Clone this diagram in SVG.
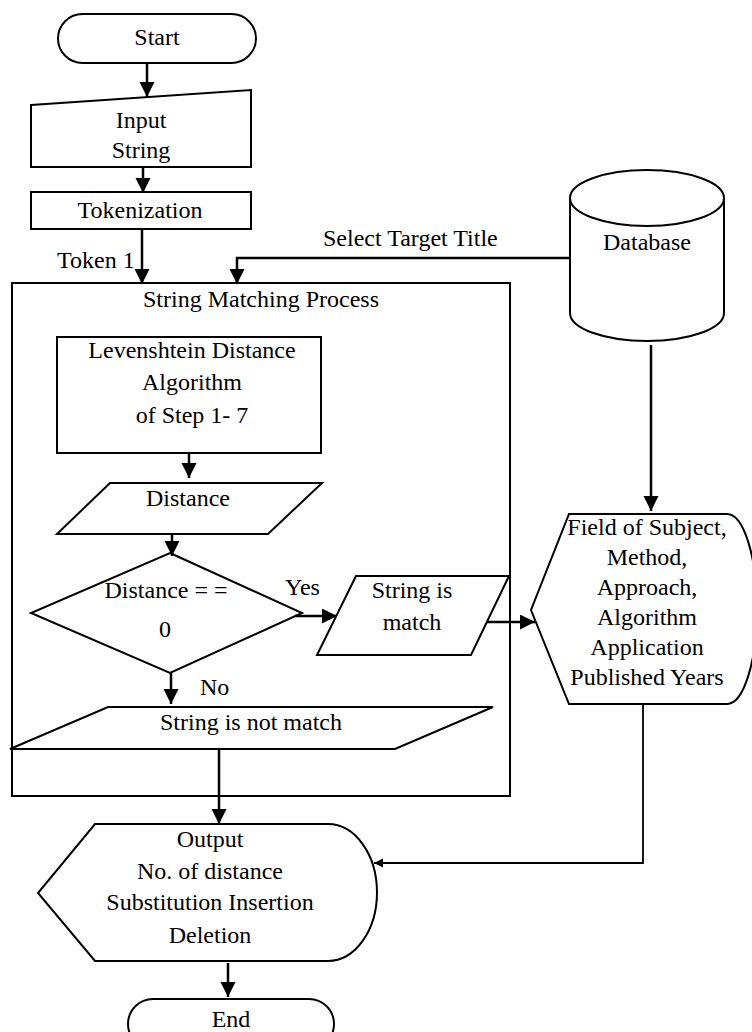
<svg xmlns="http://www.w3.org/2000/svg" width="752" height="1032" viewBox="0 0 752 1032">
  <style>
    .shape { fill: #fff; stroke: #000; stroke-width: 2; }
    .frame { fill: none; stroke: #000; stroke-width: 2; }
    .line { fill: none; stroke: #000; stroke-width: 2.5; }
    .thin { fill: none; stroke: #000; stroke-width: 1.8; }
    text { font-family: "Times New Roman", Times, "Liberation Serif", "Noto Serif", "DejaVu Serif", serif; font-size: 24px; fill: #000; }
    .c { text-anchor: middle; }
  </style>
  <defs>
    <marker id="arrow" markerUnits="userSpaceOnUse" markerWidth="16" markerHeight="16" refX="15" refY="7.5" orient="auto">
      <path d="M0,0 L15,7.5 L0,15 Z" fill="#000"/>
    </marker>
    <marker id="arrowSmall" markerUnits="userSpaceOnUse" markerWidth="10" markerHeight="10" refX="9" refY="4.5" orient="auto">
      <path d="M0,0 L9,4.5 L0,9 Z" fill="#000"/>
    </marker>
  </defs>

  <rect width="752" height="1032" fill="#fff"/>

  <!-- container for the matching stage -->
  <g id="string-matching-process">
    <rect class="frame" x="12" y="283" width="498" height="513"/>
    <text class="c" x="261" y="307">String Matching Process</text>
  </g>

  <g id="start">
    <rect class="shape" x="58" y="14" width="198" height="49" rx="24.5" ry="24.5"/>
    <text class="c" x="157" y="45">Start</text>
  </g>

  <g id="input-string">
    <polygon class="shape" points="31,105 251,90 251,167 31,167"/>
    <text class="c" x="141" y="128">Input</text>
    <text class="c" x="141" y="158">String</text>
  </g>

  <g id="tokenization">
    <rect class="shape" x="31" y="192" width="220" height="37"/>
    <text class="c" x="140" y="218">Tokenization</text>
  </g>

  <g id="database">
    <path class="shape" d="M570,198 L570,313 A77,28 0 0 0 724,313 L724,198 A77,28 0 0 0 570,198 Z"/>
    <path class="frame" d="M570,198 A77,28 0 0 0 724,198"/>
    <text class="c" x="647" y="250">Database</text>
  </g>

  <g id="levenshtein">
    <rect class="shape" x="57" y="337" width="264" height="116"/>
    <text class="c" x="192" y="358">Levenshtein Distance</text>
    <text class="c" x="192" y="390">Algorithm</text>
    <text class="c" x="192" y="423">of Step 1- 7</text>
  </g>

  <g id="distance">
    <polygon class="shape" points="110,483 322,483 268,534 57,534"/>
    <text class="c" x="188" y="506">Distance</text>
  </g>

  <g id="decision">
    <polygon class="shape" points="170,553 302,613 170,673 31,613"/>
    <text class="c" x="166" y="598">Distance  = =</text>
    <text class="c" x="165" y="637">0</text>
  </g>

  <g id="string-is-match">
    <polygon class="shape" points="356,576 509,576 471,655 317,655"/>
    <text class="c" x="412" y="598">String is</text>
    <text class="c" x="412" y="630">match</text>
  </g>

  <g id="string-is-not-match">
    <polygon class="shape" points="108,707 493,707 395,749 10,749"/>
    <text class="c" x="251" y="730">String is not match</text>
  </g>

  <g id="field-of-subject">
    <path class="shape" d="M569,514 L727,514 A30,95 0 0 1 727,704 L569,704 L531,610 Z"/>
    <text class="c" x="647" y="535">Field of Subject,</text>
    <text class="c" x="647" y="565">Method,</text>
    <text class="c" x="647" y="595">Approach,</text>
    <text class="c" x="647" y="625">Algorithm</text>
    <text class="c" x="647" y="655">Application</text>
    <text class="c" x="647" y="685">Published Years</text>
  </g>

  <g id="output">
    <path class="shape" d="M95,824 L328,824 A49,68.5 0 0 1 328,961 L95,961 L38,893 Z"/>
    <text class="c" x="210" y="847">Output</text>
    <text class="c" x="210" y="879">No. of distance</text>
    <text class="c" x="210" y="910">Substitution Insertion</text>
    <text class="c" x="210" y="943">Deletion</text>
  </g>

  <g id="end">
    <rect class="shape" x="128" y="999" width="206" height="50" rx="25" ry="25"/>
    <text class="c" x="231" y="1027">End</text>
  </g>

  <g id="connectors">
    <line class="line" x1="147" y1="63" x2="147" y2="97" marker-end="url(#arrow)"/>
    <line class="line" x1="143" y1="167" x2="143" y2="193" marker-end="url(#arrow)"/>
    <line class="line" x1="142" y1="229" x2="142" y2="284" marker-end="url(#arrow)"/>
    <polyline class="line" points="571,258 237,258 237,284" marker-end="url(#arrow)"/>
    <line class="line" x1="189" y1="453" x2="189" y2="478" marker-end="url(#arrow)"/>
    <line class="line" x1="172" y1="534" x2="172" y2="556" marker-end="url(#arrow)"/>
    <line class="line" x1="295" y1="616" x2="337" y2="616" marker-end="url(#arrow)"/>
    <line class="line" x1="171" y1="673" x2="171" y2="704" marker-end="url(#arrow)"/>
    <line class="line" x1="487" y1="622" x2="535" y2="622" marker-end="url(#arrow)"/>
    <line class="line" x1="651" y1="345" x2="651" y2="511" marker-end="url(#arrow)"/>
    <line class="line" x1="219" y1="749" x2="219" y2="824" marker-end="url(#arrow)"/>
    <polyline class="thin" points="643,704 643,863 374,863" marker-end="url(#arrowSmall)"/>
    <line class="line" x1="228" y1="963" x2="228" y2="997" marker-end="url(#arrow)"/>
    <text x="57" y="268">Token 1</text>
    <text x="323" y="246">Select Target Title</text>
    <text x="285" y="595">Yes</text>
    <text x="200" y="695">No</text>
  </g>
</svg>
